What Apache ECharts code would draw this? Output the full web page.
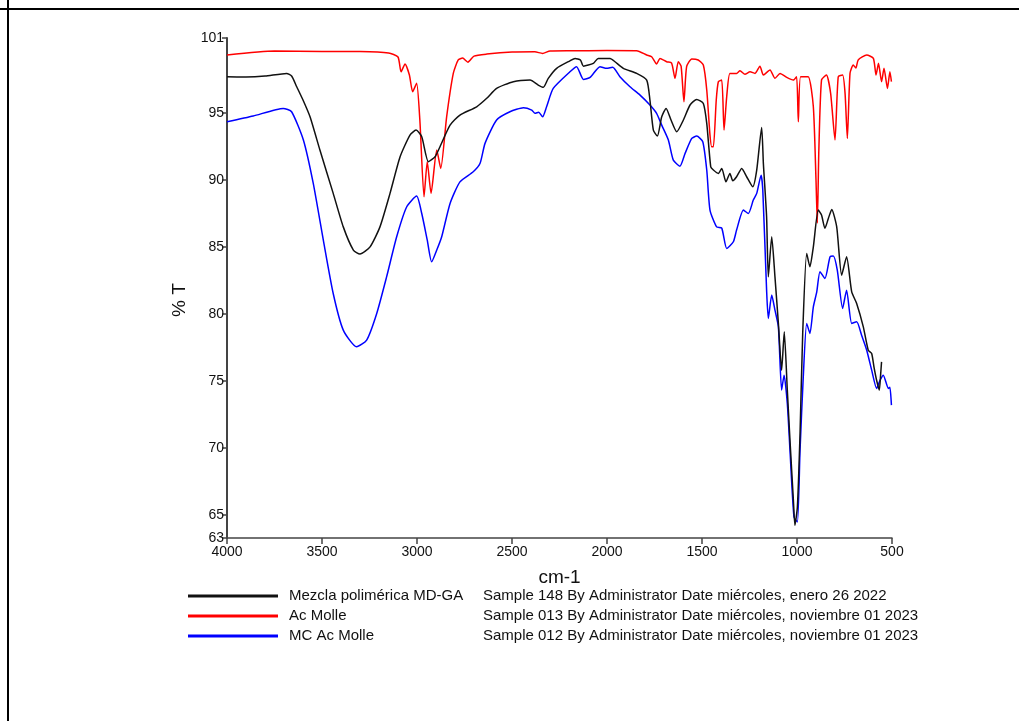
<!DOCTYPE html>
<html>
<head>
<meta charset="utf-8">
<title>FTIR</title>
<script src="https://cdn.jsdelivr.net/npm/echarts@6/dist/echarts.min.js"></script>
<style>
  html, body { margin: 0; padding: 0; background: #fff; }
  #chart { width: 1019px; height: 721px; }
</style>
</head>
<body>
<div id="chart"></div>
<script>
// Mezcla polimérica MD-GA (negro)
const blackX = [4000, 3900, 3800, 3686, 3660, 3633, 3600, 3563, 3511, 3441, 3388, 3335, 3300, 3247, 3195, 3142, 3089, 3037, 3005, 2975, 2940, 2905, 2879, 2826, 2774, 2686, 2633, 2581, 2493, 2405, 2362, 2335, 2309, 2265, 2195, 2168, 2140, 2124, 2072, 2046, 1984, 1958, 1914, 1844, 1791, 1774, 1756, 1735, 1712, 1689, 1663, 1633, 1598, 1563, 1528, 1493, 1475, 1454, 1440, 1414, 1396, 1374, 1353, 1338, 1318, 1291, 1265, 1233, 1212, 1186, 1177, 1160, 1151, 1133, 1116, 1098, 1081, 1067, 1051, 1037, 1019, 1011, 998, 984, 970, 949, 932, 914, 888, 871, 853, 835, 817, 791, 765, 739, 712, 686, 651, 625, 607, 595, 581, 567, 560, 555]
const blackY = [97.71, 97.69, 97.76, 97.96, 97.76, 96.96, 95.97, 94.72, 92.24, 89.01, 86.51, 84.78, 84.48, 85.02, 86.51, 89.01, 91.74, 93.36, 93.73, 93.23, 91.37, 91.74, 92.49, 94.1, 94.85, 95.47, 96.1, 96.84, 97.34, 97.46, 97.09, 96.92, 97.59, 98.34, 98.9, 99.08, 98.96, 98.5, 98.71, 99.08, 99.08, 98.83, 98.34, 97.96, 97.46, 95.97, 93.73, 93.28, 94.72, 95.35, 94.48, 93.6, 94.48, 95.6, 96.02, 95.72, 94.23, 90.99, 90.75, 90.5, 90.87, 89.87, 90.5, 89.95, 90.25, 90.87, 90.25, 89.5, 90.75, 93.93, 91.25, 87.26, 82.78, 85.77, 82.78, 79.31, 75.82, 78.68, 74.33, 70.6, 66.12, 64.25, 65.62, 71.1, 78.56, 84.53, 83.53, 85.02, 87.76, 87.39, 86.4, 87.14, 87.81, 86.51, 82.91, 84.28, 81.66, 80.8, 79.05, 77.31, 77.07, 76.07, 75.07, 74.33, 75.45, 76.44]

// Ac Molle (rojo)
const redX = [4000, 3750, 3500, 3300, 3150, 3100, 3084, 3063, 3040, 3023, 3002, 2985, 2963, 2946, 2926, 2896, 2875, 2844, 2809, 2783, 2760, 2732, 2700, 2633, 2500, 2380, 2339, 2300, 2195, 2000, 1844, 1791, 1765, 1739, 1721, 1686, 1660, 1642, 1625, 1610, 1595, 1581, 1554, 1520, 1493, 1475, 1458, 1449, 1440, 1425, 1414, 1396, 1384, 1370, 1353, 1318, 1300, 1274, 1247, 1221, 1195, 1177, 1142, 1116, 1089, 1054, 1019, 1002, 993, 981, 941, 914, 900, 893, 885, 871, 845, 823, 800, 783, 760, 747, 735, 721, 704, 690, 678, 633, 598, 584, 571, 555, 542, 524, 511, 503]
const redY = [99.33, 99.63, 99.6, 99.59, 99.48, 99.18, 98.08, 98.66, 97.84, 96.59, 97.22, 94.48, 88.75, 91.37, 89.01, 92.24, 90.87, 94.72, 97.96, 98.96, 99.1, 98.8, 99.25, 99.4, 99.55, 99.57, 99.45, 99.63, 99.65, 99.66, 99.65, 99.33, 99.2, 98.66, 99.08, 98.83, 98.73, 97.59, 98.83, 98.5, 95.84, 98.46, 99.03, 98.96, 98.58, 96.72, 93.36, 92.49, 92.49, 95.97, 97.34, 97.46, 93.73, 96.22, 97.96, 97.96, 98.16, 97.89, 98.08, 97.96, 98.5, 97.84, 98.21, 97.59, 97.96, 97.66, 97.46, 97.71, 94.35, 97.71, 97.71, 95.47, 90.0, 86.8, 92.24, 97.46, 97.84, 96.47, 92.99, 97.71, 97.84, 96.47, 93.11, 97.96, 98.58, 98.36, 98.96, 99.33, 99.08, 97.84, 98.71, 97.34, 98.34, 96.84, 98.08, 97.34]

// MC Ac Molle (azul)
const blueX = [4000, 3862, 3704, 3660, 3598, 3546, 3493, 3441, 3388, 3318, 3265, 3212, 3160, 3107, 3054, 3002, 2975, 2946, 2923, 2896, 2870, 2826, 2774, 2704, 2668, 2642, 2581, 2511, 2440, 2396, 2379, 2360, 2339, 2318, 2283, 2195, 2160, 2124, 2089, 2037, 2002, 1970, 1932, 1879, 1826, 1774, 1739, 1712, 1677, 1651, 1616, 1589, 1554, 1528, 1496, 1475, 1458, 1423, 1396, 1370, 1335, 1318, 1282, 1256, 1230, 1212, 1189, 1180, 1160, 1151, 1133, 1116, 1098, 1081, 1068, 1051, 1037, 1016, 998, 984, 967, 949, 932, 914, 896, 879, 853, 826, 809, 788, 760, 739, 712, 686, 660, 633, 607, 581, 563, 546, 519, 511, 503]
const blueY = [94.35, 94.78, 95.35, 95.1, 92.99, 89.75, 85.52, 81.54, 78.81, 77.56, 78.06, 80.05, 82.78, 85.77, 88.01, 88.81, 87.51, 85.52, 83.9, 84.78, 85.77, 88.26, 89.87, 90.62, 91.25, 92.74, 94.48, 95.1, 95.4, 95.22, 94.98, 95.07, 94.72, 95.47, 96.84, 98.08, 98.46, 97.51, 97.66, 98.46, 98.34, 98.41, 97.71, 96.96, 96.34, 95.6, 94.98, 94.1, 92.99, 91.49, 91.04, 91.99, 93.11, 93.28, 92.86, 90.75, 87.76, 86.51, 86.42, 84.9, 85.4, 86.27, 87.76, 87.51, 88.51, 89.01, 90.37, 89.25, 81.79, 79.68, 81.42, 80.3, 79.05, 74.33, 75.45, 73.34, 69.85, 64.87, 64.5, 69.85, 75.32, 79.31, 78.56, 80.54, 81.66, 83.16, 82.66, 84.28, 84.33, 83.28, 80.43, 81.79, 79.31, 79.43, 78.43, 77.31, 75.82, 74.46, 75.07, 75.45, 74.46, 74.55, 73.21]

const xTicks = [4000, 3500, 3000, 2500, 2000, 1500, 1000, 500]
const yTicks = [63.3, 65, 70, 75, 80, 85, 90, 95, 100.6]

const legendNames = ['Mezcla polimérica MD-GA', 'Ac Molle', 'MC Ac Molle']
const legendInfo = [
  'Sample 148 By Administrator Date miércoles, enero 26 2022',
  'Sample 013 By Administrator Date miércoles, noviembre 01 2023',
  'Sample 012 By Administrator Date miércoles, noviembre 01 2023',
]
const colors = ['#111111', '#ff0000', '#0000ff']

const pairs = (xs, ys) => xs.map((x, i) => [x, ys[i]])
const font = "'Liberation Sans Narrow', 'Arial Narrow', 'Liberation Sans', Arial, sans-serif"
const legendFont = "'Liberation Sans', Arial, sans-serif"
const axisGray = '#444'

let chart = echarts.init(document.getElementById('chart'), null, { renderer: 'canvas' })

chart.setOption({
  backgroundColor: '#fff',
  animation: false,
  color: colors,
  grid: { left: 227, right: 127, top: 38, bottom: 183, containLabel: false },
  xAxis: {
    type: 'value',
    inverse: true,
    min: 500,
    max: 4000,
    interval: 500,
    name: 'cm-1',
    nameLocation: 'middle',
    nameGap: 30,
    nameTextStyle: { fontFamily: font, fontSize: 19, color: '#111' },
    axisLine: { lineStyle: { color: axisGray, width: 1.5 } },
    axisTick: { show: true, length: 6, lineStyle: { color: axisGray, width: 1.5 }, customValues: xTicks },
    axisLabel: {
      fontFamily: font,
      fontSize: 14,
      color: '#111',
      margin: 7,
      customValues: xTicks,
      formatter: (v) => String(v),
    },
    splitLine: { show: false },
  },
  yAxis: {
    type: 'value',
    min: 63.3,
    max: 100.6,
    name: '% T',
    nameLocation: 'middle',
    nameGap: 30,
    nameRotate: 90,
    nameTextStyle: { fontFamily: font, fontSize: 19, color: '#111', padding: [0, 24, 0, 0] },
    axisLine: { show: true, lineStyle: { color: axisGray, width: 2 } },
    axisTick: { show: true, length: 5, lineStyle: { color: axisGray, width: 1.5 }, customValues: yTicks },
    axisLabel: {
      fontFamily: font,
      fontSize: 14,
      color: '#111',
      margin: 3,
      customValues: yTicks,
      formatter: (v) => String(Math.round(v)),
    },
    splitLine: { show: false },
  },
  legend: {
    orient: 'vertical',
    left: 183,
    top: 583,
    icon: 'rect',
    itemWidth: 90,
    itemHeight: 3,
    itemGap: 4,
    formatter: (name) => {
      let i = legendNames.indexOf(name)
      return `{p| }{a|${name}}{b|${legendInfo[i]}}`
    },
    textStyle: {
      fontFamily: legendFont,
      fontSize: 15,
      lineHeight: 16,
      color: '#111',
      rich: {
        p: { width: 6 },
        a: { width: 194, fontSize: 15, lineHeight: 16, fontFamily: legendFont, color: '#111' },
        b: { fontSize: 15, lineHeight: 16, fontFamily: legendFont, color: '#111' },
      },
    },
  },
  graphic: [
    // table borders around the figure
    { type: 'rect', shape: { x: 0, y: 8, width: 1019, height: 2 }, style: { fill: '#000' } },
    { type: 'rect', shape: { x: 7, y: 0, width: 2, height: 721 }, style: { fill: '#000' } },
  ],
  series: [
    {
      name: legendNames[0],
      type: 'line',
      data: pairs(blackX, blackY),
      symbol: 'none',
      smooth: 0.2,
      lineStyle: { color: colors[0], width: 1.5 },
      z: 3,
    },
    {
      name: legendNames[1],
      type: 'line',
      data: pairs(redX, redY),
      symbol: 'none',
      smooth: 0.2,
      lineStyle: { color: colors[1], width: 1.5 },
      z: 2,
    },
    {
      name: legendNames[2],
      type: 'line',
      data: pairs(blueX, blueY),
      symbol: 'none',
      smooth: 0.2,
      lineStyle: { color: colors[2], width: 1.5 },
      z: 2,
    },
  ],
})
</script>
</body>
</html>
